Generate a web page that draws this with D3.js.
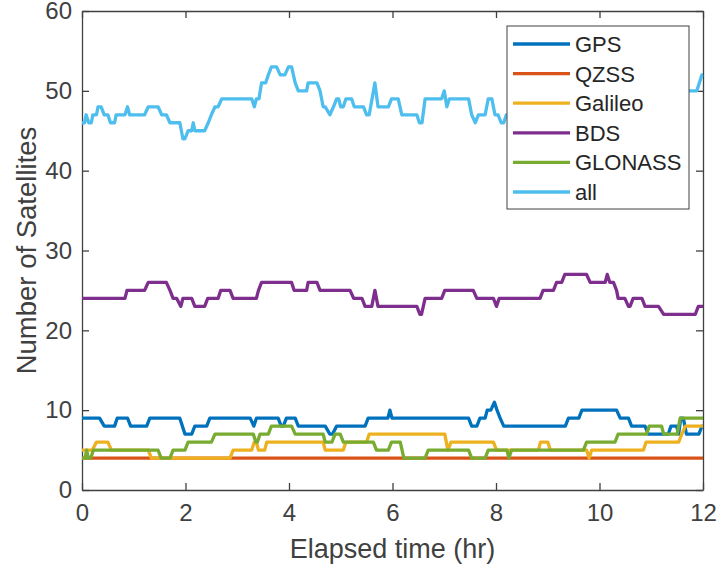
<!DOCTYPE html>
<html>
<head>
<meta charset="utf-8">
<script src="https://cdn.jsdelivr.net/npm/d3@7"></script>
<style>
  body { margin: 0; background: #fff; }
  text { font-family: "Liberation Sans", Arial, sans-serif; }
</style>
</head>
<body>
<svg id="chart"></svg>
<script>
// series names, x/y ticks
const seriesNames = ["GPS", "QZSS", "Galileo", "BDS", "GLONASS", "all"];
const xTicks = [0, 2, 4, 6, 8, 10, 12];
const yTicks = [0, 10, 20, 30, 40, 50, 60];

// [elapsed hr, number of satellites]
const gps = [[0,9],[0.34,9],[0.43,8],[0.63,8],[0.68,9],[0.88,9],[0.94,8],[1.25,8],[1.31,9],[1.89,9],[1.99,7],[2.12,7],[2.18,8],[2.41,8],[2.47,9],[3.25,9],[3.32,8],[3.37,9],[3.79,9],[3.85,8],[3.89,8],[3.95,9],[4.12,9],[4.18,8],[4.7,8],[4.79,7],[4.84,7],[4.92,8],[5.47,8],[5.53,9],[5.91,9],[5.95,10],[5.99,9],[7.47,9],[7.53,8],[7.63,8],[7.69,9],[7.79,9],[7.83,10],[7.9,10],[7.97,11],[8.02,10],[8.08,9],[8.15,8],[9.34,8],[9.4,9],[9.6,9],[9.66,10],[10.33,10],[10.4,9],[10.56,9],[10.62,8],[10.88,8],[10.94,7],[11.33,7],[11.38,8],[11.49,8],[11.53,7],[11.57,9],[11.62,9],[11.68,7],[11.92,7],[11.98,8],[12,8]];
const qzss = [[0,4],[12,4]];
const galileo = [[0,5],[0.2,5],[0.28,6],[0.5,6],[0.57,5],[1.28,5],[1.34,4],[2.86,4],[2.92,5],[3.28,5],[3.33,6],[3.37,6],[3.41,5],[3.53,5],[3.57,6],[4.66,6],[4.7,5],[5.05,5],[5.1,6],[5.5,6],[5.55,7],[7.01,7],[7.07,5],[7.13,6],[7.95,6],[8.01,5],[8.82,5],[8.86,6],[9.0,6],[9.05,5],[9.75,5],[9.8,4],[9.85,5],[10.85,5],[10.9,6],[11.53,6],[11.59,7],[11.66,8],[12,8]];
const bds = [[0,24],[0.83,24],[0.87,25],[1.21,25],[1.28,26],[1.63,26],[1.7,25],[1.76,24],[1.83,24],[1.91,23],[1.95,24],[2.12,24],[2.18,23],[2.37,23],[2.43,24],[2.63,24],[2.68,25],[2.86,25],[2.92,24],[3.37,24],[3.41,25],[3.47,26],[4.05,26],[4.1,25],[4.34,25],[4.37,26],[4.54,26],[4.6,25],[5.18,25],[5.25,24],[5.41,24],[5.47,23],[5.6,23],[5.66,25],[5.72,23],[6.47,23],[6.53,22],[6.56,22],[6.63,24],[6.95,24],[7.01,25],[7.56,25],[7.63,24],[7.95,24],[8.01,23],[8.06,24],[8.85,24],[8.91,25],[9.11,25],[9.17,26],[9.27,26],[9.33,27],[9.75,27],[9.82,26],[10.11,26],[10.15,27],[10.2,26],[10.27,26],[10.33,25],[10.36,24],[10.49,24],[10.56,23],[10.59,23],[10.65,24],[10.82,24],[10.88,23],[11.14,23],[11.24,22],[11.85,22],[11.91,23],[12,23]];
const glonass = [[0,4],[0.06,4],[0.09,5],[0.12,4],[0.17,4],[0.22,5],[1.47,5],[1.53,4],[1.7,4],[1.76,5],[1.99,5],[2.05,6],[2.5,6],[2.57,7],[3.31,7],[3.36,6],[3.39,6],[3.44,7],[3.6,7],[3.66,8],[4.05,8],[4.12,7],[4.66,7],[4.7,6],[4.83,6],[4.89,7],[4.99,7],[5.05,6],[5.63,6],[5.69,5],[5.92,5],[5.98,6],[6.15,6],[6.22,4],[6.63,4],[6.69,5],[7.47,5],[7.53,4],[7.79,4],[7.85,5],[8.21,5],[8.25,4],[8.3,5],[9.69,5],[9.75,6],[10.3,6],[10.36,7],[10.91,7],[10.96,8],[11.2,8],[11.24,7],[11.5,7],[11.56,9],[12,9]];
const all = [[0,46],[0.05,46],[0.08,47],[0.13,46],[0.18,46],[0.21,47],[0.28,47],[0.31,48],[0.37,48],[0.43,47],[0.5,47],[0.55,46],[0.63,46],[0.66,47],[0.83,47],[0.88,48],[0.92,47],[1.21,47],[1.28,48],[1.47,48],[1.54,47],[1.63,47],[1.7,46],[1.89,46],[1.95,44],[1.99,44],[2.05,45],[2.12,45],[2.15,46],[2.18,45],[2.37,45],[2.44,46],[2.5,47],[2.57,48],[2.63,48],[2.7,49],[3.28,49],[3.33,48],[3.37,49],[3.42,49],[3.47,51],[3.55,51],[3.6,52],[3.66,53],[3.76,53],[3.83,52],[3.92,52],[3.99,53],[4.05,53],[4.12,51],[4.18,50],[4.34,50],[4.37,51],[4.54,51],[4.6,50],[4.66,48],[4.7,48],[4.79,47],[4.86,48],[4.92,49],[4.96,49],[5.0,48],[5.05,48],[5.1,49],[5.21,49],[5.26,48],[5.44,48],[5.5,47],[5.55,47],[5.66,51],[5.72,48],[5.92,48],[5.98,49],[6.11,49],[6.18,47],[6.47,47],[6.52,46],[6.57,46],[6.63,49],[6.95,49],[7.0,50],[7.05,48],[7.1,49],[7.47,49],[7.53,47],[7.6,46],[7.66,47],[7.79,47],[7.85,49],[7.92,49],[7.98,47],[8.04,47],[8.1,46],[8.15,46],[8.2,47],[8.9,47],[9.0,48],[9.3,49],[9.8,50],[10.3,49],[10.6,48],[11.0,48],[11.3,49],[11.6,50],[11.88,50],[11.98,52],[12,52]];

const seriesData = [gps, qzss, galileo, bds, glonass, all];
const colors = ["#0072BD", "#D95319", "#EDB120", "#7E2F8E", "#77AC30", "#4DBEEE"];

const margin = { top: 11, right: 16, bottom: 80, left: 82 };
const width = 719 - margin.left - margin.right;
const height = 570 - margin.top - margin.bottom;
const axisColor = "#404040";

const svg = d3
  .select("#chart")
  .attr("width", 719)
  .attr("height", 570)
  .append("g")
  .attr("transform", "translate(" + margin.left + "," + margin.top + ")");

const x = d3.scaleLinear().domain([0, 12]).range([0, width]);
const y = d3.scaleLinear().domain([0, 60]).range([height, 0]);

// axes, ticks pointing inward, box on all four sides
const styleAxis = (g) => {
  g.select(".domain").attr("stroke", axisColor).attr("stroke-width", 1.3);
  g.selectAll(".tick line").attr("stroke", axisColor).attr("stroke-width", 1.3);
  g.selectAll(".tick text")
    .attr("fill", axisColor)
    .style("font-size", "24px");
};

svg
  .append("g")
  .attr("transform", "translate(0," + height + ")")
  .call(d3.axisBottom(x).tickValues(xTicks).tickSizeInner(-7).tickSizeOuter(0).tickPadding(14).tickFormat(d3.format("d")))
  .call(styleAxis);
svg
  .append("g")
  .call(d3.axisTop(x).tickValues(xTicks).tickSizeInner(-7).tickSizeOuter(0).tickFormat(""))
  .call(styleAxis);
svg
  .append("g")
  .call(d3.axisLeft(y).tickValues(yTicks).tickSizeInner(-7).tickSizeOuter(0).tickPadding(10).tickFormat(d3.format("d")))
  .call(styleAxis);
svg
  .append("g")
  .attr("transform", "translate(" + width + ",0)")
  .call(d3.axisRight(y).tickValues(yTicks).tickSizeInner(-7).tickSizeOuter(0).tickFormat(""))
  .call(styleAxis);

// lines
const line = d3
  .line()
  .x((d) => x(d[0]))
  .y((d) => y(d[1]));

svg
  .selectAll(".series")
  .data(seriesData)
  .enter()
  .append("path")
  .attr("class", "series")
  .attr("fill", "none")
  .attr("stroke", (d, i) => colors[i])
  .attr("stroke-width", 3.3)
  .attr("stroke-linejoin", "round")
  .attr("d", line);

// axis titles
svg
  .append("text")
  .attr("x", width / 2)
  .attr("y", height + 68)
  .attr("text-anchor", "middle")
  .attr("fill", axisColor)
  .style("font-size", "27px")
  .text("Elapsed time (hr)");

svg
  .append("text")
  .attr("transform", "translate(" + (-46) + "," + height / 2 + ") rotate(-90)")
  .attr("text-anchor", "middle")
  .attr("fill", axisColor)
  .style("font-size", "27.5px")
  .text("Number of Satellites");

// legend
const legend = svg.append("g").attr("transform", "translate(" + (507 - margin.left) + "," + (26 - margin.top) + ")");
legend
  .append("rect")
  .attr("width", 182)
  .attr("height", 183)
  .attr("fill", "#fff")
  .attr("stroke", axisColor)
  .attr("stroke-width", 1);

const rows = legend
  .selectAll(".row")
  .data(seriesNames)
  .enter()
  .append("g")
  .attr("class", "row")
  .attr("transform", (d, i) => "translate(0," + (18 + i * 29.6) + ")");
rows
  .append("line")
  .attr("x1", 6)
  .attr("x2", 63)
  .attr("stroke", (d, i) => colors[i])
  .attr("stroke-width", 3.3);
rows
  .append("text")
  .attr("x", 68)
  .attr("dy", "0.36em")
  .attr("fill", "#262626")
  .style("font-size", "22px")
  .text((d) => d);
</script>
</body>
</html>
